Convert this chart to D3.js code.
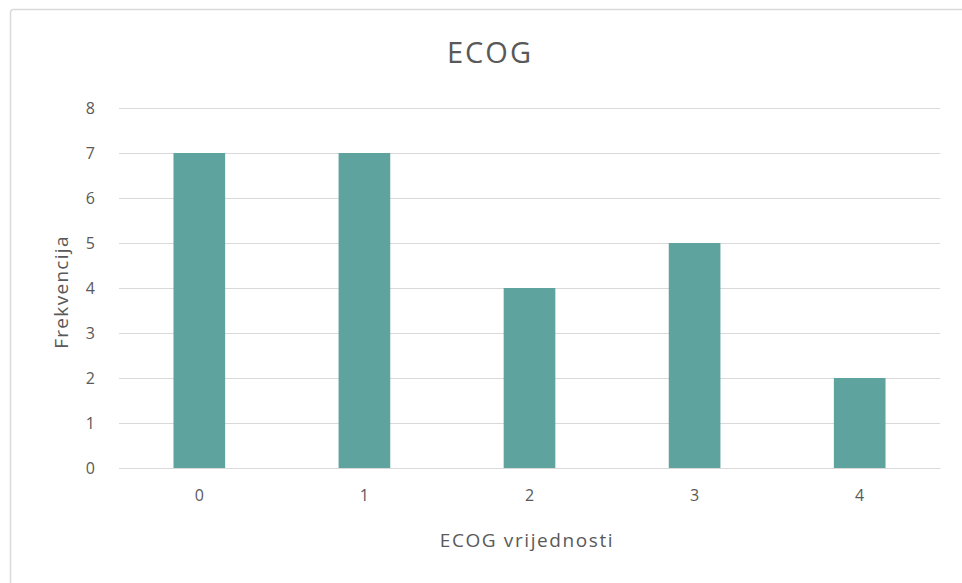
<!DOCTYPE html>
<html><head><meta charset="utf-8">
<script src="https://cdn.jsdelivr.net/npm/d3@7"></script>
<style>body{margin:0;background:#fff;}svg{display:block;}</style>
</head><body>
<svg id="c" width="962" height="583"></svg>
<script>
const categories = ["0","1","2","3","4"];
const values = [7,7,4,5,2];
const yTicks = [0,1,2,3,4,5,6,7,8];
const title = "ECOG";
const xTitle = "ECOG vrijednosti";
const yTitle = "Frekvencija";

(function(){
const svg = d3.select("#c");
const font = "'Open Sans', 'Segoe UI', sans-serif";
svg.append("rect").attr("x",10.5).attr("y",9.5).attr("width",960).attr("height",600)
  .attr("fill","#fff").attr("stroke","#d9d9d9").attr("stroke-width",1.5).attr("rx",3);

const pL=119, pR=940, pT=108, pB=468;
const x = d3.scaleBand().domain(categories).range([pL,pR]).paddingInner(0.687).paddingOuter(0.33);
const y = d3.scaleLinear().domain([0,8]).range([pB,pT]);

const gy = svg.append("g").attr("transform",`translate(${pL},0)`)
  .call(d3.axisLeft(y).tickValues(yTicks).tickSize(-(pR-pL)).tickPadding(24));
gy.select(".domain").remove();
gy.selectAll(".tick line").attr("stroke","#d9d9d9").attr("stroke-width",1);
gy.selectAll(".tick text").attr("fill","#595959").style("font-family",font).style("font-size","16px").attr("dy","0.36em");

svg.append("g").selectAll("rect").data(values).join("rect")
  .attr("x",(d,i)=>x(categories[i])).attr("width",x.bandwidth())
  .attr("y",d=>y(d)).attr("height",d=>y(0)-y(d)).attr("fill","#5fa39e");

const gx = svg.append("g").attr("transform",`translate(0,${pB})`)
  .call(d3.axisBottom(x).tickSize(0).tickPadding(22));
gx.select(".domain").attr("stroke","#d9d9d9");
gx.selectAll(".tick text").attr("fill","#595959").style("font-family",font).style("font-size","16px");

svg.append("text").attr("x",490).attr("y",63).attr("text-anchor","middle")
  .attr("fill","#595959").style("font-family",font).style("font-size","29px").style("letter-spacing","2px").text(title);
svg.append("text").attr("x",527).attr("y",547).attr("text-anchor","middle")
  .attr("fill","#595959").style("font-family",font).style("font-size","19px").style("letter-spacing","1.6px").text(xTitle);
svg.append("text").attr("transform","translate(68,292) rotate(-90)").attr("text-anchor","middle")
  .attr("fill","#595959").style("font-family",font).style("font-size","19px").style("letter-spacing","1.3px").text(yTitle);
})();
</script>
</body></html>
